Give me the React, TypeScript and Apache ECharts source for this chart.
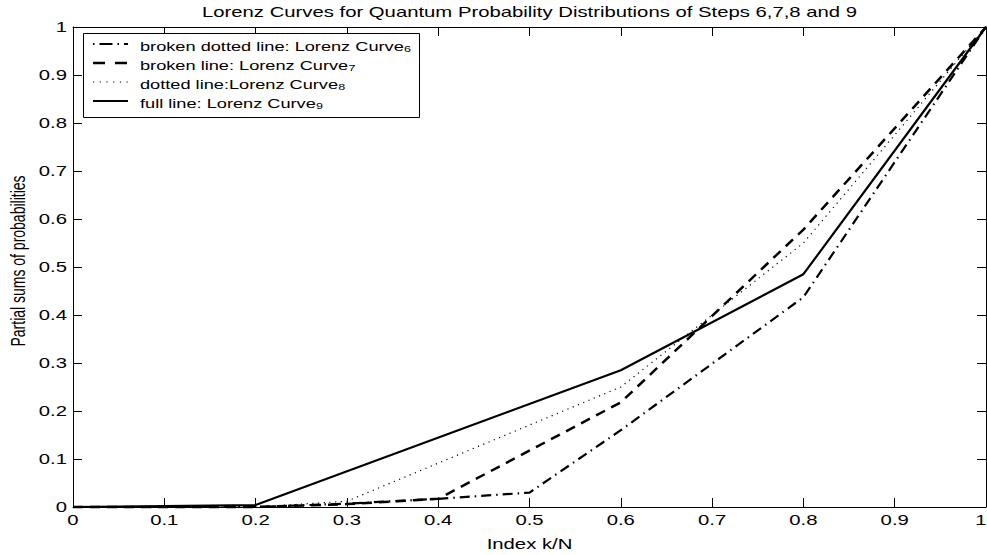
import React, { useEffect, useRef } from "react";
import * as echarts from "echarts";

const TITLE = "Lorenz Curves for Quantum Probability Distributions of Steps 6,7,8 and 9";
const X_NAME = "Index k/N";
const Y_NAME = "Partial sums of probabilities";

// Lorenz curve break points (x = k/N, y = partial sum)
const curve6X = [0, 0.2, 0.3, 0.4, 0.5, 0.6, 0.8, 1];
const curve6Y = [0, 0, 0.007, 0.017, 0.03, 0.16, 0.437, 1];
const curve7X = [0, 0.2, 0.3, 0.4, 0.6, 0.8, 1];
const curve7Y = [0, 0, 0.006, 0.017, 0.218, 0.578, 1];
const curve8X = [0, 0.2, 0.3, 0.6, 0.8, 1];
const curve8Y = [0, 0, 0.012, 0.25, 0.55, 1];
const curve9X = [0, 0.2, 0.6, 0.8, 1];
const curve9Y = [0, 0.004, 0.285, 0.485, 1];

const xTickValues = [0, 0.1, 0.2, 0.3, 0.4, 0.5, 0.6, 0.7, 0.8, 0.9, 1];
const xTickLabels = ["0", "0.1", "0.2", "0.3", "0.4", "0.5", "0.6", "0.7", "0.8", "0.9", "1"];
const yTickValues = [0, 0.1, 0.2, 0.3, 0.4, 0.5, 0.6, 0.7, 0.8, 0.9, 1];
const yTickLabels = ["0", "0.1", "0.2", "0.3", "0.4", "0.5", "0.6", "0.7", "0.8", "0.9", "1"];

const legendLabels = [
  "broken dotted line: Lorenz Curve",
  "broken line: Lorenz Curve",
  "dotted line:Lorenz Curve",
  "full line: Lorenz Curve",
];
const legendSubs = ["6", "7", "8", "9"];

const FONT = "'Liberation Sans', Arial, Helvetica, sans-serif";
const STRETCH = 1.45;

const styles = [
  { type: [10, 5, 1.5, 5] as number[], width: 2.2 },
  { type: [10, 7] as number[], width: 2.5 },
  { type: [1.2, 4.5] as number[], width: 1.2 },
  { type: "solid" as any, width: 2.2 },
];
const legendDash: any[] = [
  { dash: [13, 5, 1.5, 5], offset: 18 },
  { dash: [12, 10], offset: 0 },
  { dash: [1.2, 5.5], offset: 0 },
  { dash: null, offset: 0 },
];

function pairs(xs: number[], ys: number[]) {
  return xs.map((x, i) => [x, ys[i]]);
}

export default function App() {
  const ref = useRef<HTMLDivElement>(null);
  useEffect(() => {
    if (!ref.current) return;
    const chart = echarts.init(ref.current, undefined, { renderer: "svg" });
    const seriesData = [
      pairs(curve6X, curve6Y),
      pairs(curve7X, curve7Y),
      pairs(curve8X, curve8Y),
      pairs(curve9X, curve9Y),
    ];
    const tickCommon = {
      show: true,
      inside: true,
      length: 9,
      lineStyle: { color: "#000", width: 1 },
    };
    const hiddenLabel = { show: false };

    chart.setOption({
      animation: false,
      backgroundColor: "#fff",
      grid: { left: 73, right: 1, top: 27, bottom: 48, outerBoundsMode: "none", containLabel: false } as any,
      xAxis: [
        {
          type: "value",
          min: 0,
          max: 1,
          interval: 0.1,
          axisLine: { show: true, lineStyle: { color: "#000", width: 1 } },
          axisTick: tickCommon,
          axisLabel: hiddenLabel,
          splitLine: { show: false },
        },
        {
          type: "value",
          position: "top",
          min: 0,
          max: 1,
          interval: 0.1,
          axisLine: { show: true, onZero: false, lineStyle: { color: "#000", width: 1 } },
          axisTick: tickCommon,
          axisLabel: hiddenLabel,
          splitLine: { show: false },
        },
      ],
      yAxis: [
        {
          type: "value",
          min: 0,
          max: 1,
          interval: 0.1,
          axisLine: { show: true, lineStyle: { color: "#000", width: 1 } },
          axisTick: tickCommon,
          axisLabel: hiddenLabel,
          splitLine: { show: false },
        },
        {
          type: "value",
          position: "right",
          min: 0,
          max: 1,
          interval: 0.1,
          axisLine: { show: true, onZero: false, lineStyle: { color: "#000", width: 1 } },
          axisTick: tickCommon,
          axisLabel: hiddenLabel,
          splitLine: { show: false },
        },
      ],
      series: seriesData.map((d, i) => ({
        type: "line",
        name: legendLabels[i] + legendSubs[i],
        data: d,
        xAxisIndex: 0,
        yAxisIndex: 0,
        showSymbol: false,
        symbol: "none",
        clip: false,
        lineStyle: { color: "#000", width: styles[i].width, type: styles[i].type },
        z: 10 + i,
      })),
    });

    const g: any[] = [];
    const txt = (text: string, x: number, y: number, align: string, size: number) => ({
      type: "text",
      x,
      y,
      scaleX: STRETCH,
      style: {
        text,
        fontSize: size,
        fontFamily: FONT,
        fill: "#000",
        align,
        verticalAlign: "middle",
      },
      z: 50,
    });

    // tick labels placed with the axes' own scales
    const x0 = chart.convertToPixel({ xAxisIndex: 0 }, 0) as number;
    const x1 = chart.convertToPixel({ xAxisIndex: 0 }, 1) as number;
    const y0 = chart.convertToPixel({ yAxisIndex: 0 }, 0) as number;
    const y1 = chart.convertToPixel({ yAxisIndex: 0 }, 1) as number;
    xTickValues.forEach((v, i) => {
      let px = chart.convertToPixel({ xAxisIndex: 0 }, v) as number;
      let align = "center";
      if (px > 980) {
        px = 986.5;
        align = "right";
      }
      g.push(txt(xTickLabels[i], px, y0 + 13, align, 14));
    });
    yTickValues.forEach((v, i) => {
      const py = chart.convertToPixel({ yAxisIndex: 0 }, v) as number;
      g.push(txt(yTickLabels[i], x0 - 6, py, "right", 14));
    });

    const midX = (x0 + x1) / 2;
    const midY = (y0 + y1) / 2;
    g.push(txt(TITLE, midX, 12, "center", 14));
    g.push(txt(X_NAME, midX, y0 + 37, "center", 14));
    g.push({
      type: "text",
      x: 18,
      y: midY - 6,
      rotation: Math.PI / 2,
      scaleY: STRETCH,
      style: {
        text: Y_NAME,
        fontSize: 14,
        fontFamily: FONT,
        fill: "#000",
        align: "center",
        verticalAlign: "middle",
      },
      z: 50,
    });

    // legend box
    const LS = 1.4;
    g.push({
      type: "rect",
      shape: { x: 83.5, y: 33.5, width: 336, height: 84 },
      style: { fill: "#fff", stroke: "#000", lineWidth: 1 },
      z: 100,
    });
    const rowY = [44, 63, 82, 101];
    legendLabels.forEach((lab, i) => {
      g.push({
        type: "line",
        shape: { x1: 93, y1: rowY[i], x2: 128, y2: rowY[i] },
        style: {
          stroke: "#000",
          lineWidth: styles[i].width,
          lineDash: legendDash[i].dash,
          lineDashOffset: legendDash[i].offset,
        },
        z: 101,
      });
      g.push({
        type: "text",
        x: 140,
        y: rowY[i],
        scaleX: LS,
        style: {
          text: `{a|${lab}}{s|${legendSubs[i]}}`,
          verticalAlign: "middle",
          rich: {
            a: { fontSize: 13, fontFamily: FONT, fill: "#000", lineHeight: 18, verticalAlign: "bottom" },
            s: { fontSize: 9, fontFamily: FONT, fill: "#000", lineHeight: 10, verticalAlign: "bottom" },
          },
        },
        z: 101,
      });
    });

    chart.setOption({ graphic: g });
    return () => chart.dispose();
  }, []);
  return (
    <div
      ref={ref}
      style={{ position: "fixed", left: 0, top: 0, width: 987, height: 555 }}
    />
  );
}
